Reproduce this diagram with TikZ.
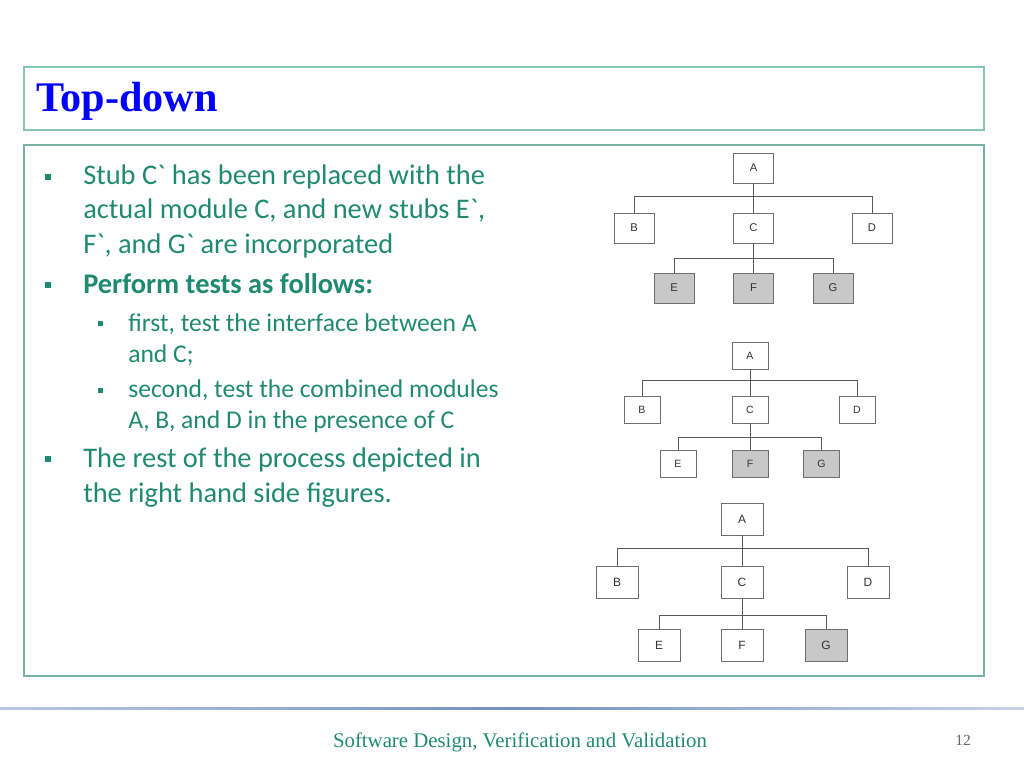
\documentclass[tikz,border=0pt]{standalone}
\usepackage{fontspec}
\setmainfont{Carlito}[Ligatures=TeXOff]
\newfontfamily\titlefont{Liberation Serif}
\newfontfamily\boxfont{Liberation Sans}
\usepackage{tikz}
\usetikzlibrary{positioning, arrows.meta}
\usepackage{xcolor}
\definecolor{bodytxt}{RGB}{31,138,112}
\definecolor{framecol}{RGB}{135,198,182}
\definecolor{footline}{RGB}{115,145,195}
\definecolor{boxline}{RGB}{110,110,110}
\definecolor{stubfill}{RGB}{200,200,200}

\begin{document}
\begin{tikzpicture}[x=0.025cm, y=-0.025cm]
  \tikzstyle{mod} = [rectangle, draw=boxline, fill=white, line width=0.5pt, inner sep=0pt, text=black!80]
  \tikzstyle{stub} = [mod, fill=stubfill]
  \tikzstyle{link} = [draw=black!65, line width=0.5pt]
  \tikzstyle{body} = [anchor=base west, inner sep=0pt, align=left, text=bodytxt, font=\fontsize{20.2}{24.2}\selectfont]
  \tikzstyle{subbody} = [body, font=\fontsize{18.2}{21.8}\selectfont]

  \useasboundingbox (0,0) rectangle (1024,768);

  % Titel
  \draw[framecol, line width=0.8pt] (24,67) rectangle (984,130);
  \node[anchor=base west, inner sep=0pt, text=blue, font=\titlefont\bfseries\fontsize{30}{34}\selectfont] (title) at (36,112) {Top-down};

  % Inhalt
  \draw[framecol!90!black, line width=0.8pt] (24,145) rectangle (984,676);

  \foreach \y in {177,285,459}
    \fill[bodytxt] (45,\y-3) rectangle (51,\y+3);
  \foreach \y in {323,390}
    \fill[bodytxt] (98,\y-2.5) rectangle (103,\y+2.5);

  % Ankerpunkt = Grundlinie der letzten Zeile
  \node[body] (p1) at (83,253)
    {Stub C` has been replaced with the\\ actual module C, and new stubs E`,\\ F`, and G` are incorporated};
  \node[body, font=\fontsize{20.2}{24.2}\selectfont\bfseries] (p2) at (83,293)
    {Perform tests as follows:};
  \node[subbody] (p3) at (128,362)
    {first, test the interface between A\\ and C;};
  \node[subbody] (p4) at (128,428)
    {second, test the combined modules\\ A, B, and D in the presence of C};
  \node[body] (p5) at (83,502)
    {The rest of the process depicted in\\ the right hand side figures.};

  % Baum 1
  \begin{scope}[every node/.append style={minimum width=1cm, minimum height=0.75cm, font=\boxfont\fontsize{8}{9}\selectfont}]
    \node[mod] (a1) at (753.5,168) {A};
    \node[mod] (b1) at (634,228) {B};
    \node[mod] (c1) at (753.5,228) {C};
    \node[mod] (d1) at (872,228) {D};
    \node[stub] (e1) at (674,288) {E};
    \node[stub] (f1) at (753.5,288) {F};
    \node[stub] (g1) at (833,288) {G};
  \end{scope}
  \foreach \k in {b1,c1,d1}
    \draw[link] (a1.south) -- ++(0,13) -| (\k.north);
  \foreach \k in {e1,f1,g1}
    \draw[link] (c1.south) -- ++(0,15) -| (\k.north);

  % Baum 2
  \begin{scope}[every node/.append style={minimum width=0.9cm, minimum height=0.675cm, font=\boxfont\fontsize{7.5}{9}\selectfont}]
    \node[mod] (a2) at (750,355.5) {A};
    \node[mod] (b2) at (642,409.5) {B};
    \node[mod] (c2) at (750,409.5) {C};
    \node[mod] (d2) at (857,409.5) {D};
    \node[mod] (e2) at (678,463.5) {E};
    \node[stub] (f2) at (750,463.5) {F};
    \node[stub] (g2) at (821.5,463.5) {G};
  \end{scope}
  \foreach \k in {b2,c2,d2}
    \draw[link] (a2.south) -- ++(0,11) -| (\k.north);
  \foreach \k in {e2,f2,g2}
    \draw[link] (c2.south) -- ++(0,14) -| (\k.north);

  % Baum 3
  \begin{scope}[every node/.append style={minimum width=1.05cm, minimum height=0.8cm, font=\boxfont\fontsize{8.5}{10}\selectfont}]
    \node[mod] (a3) at (742,519) {A};
    \node[mod] (b3) at (617,582.5) {B};
    \node[mod] (c3) at (742,582.5) {C};
    \node[mod] (d3) at (868,582.5) {D};
    \node[mod] (e3) at (659,645) {E};
    \node[mod] (f3) at (742,645) {F};
    \node[stub] (g3) at (826,645) {G};
  \end{scope}
  \foreach \k in {b3,c3,d3}
    \draw[link] (a3.south) -- ++(0,13) -| (\k.north);
  \foreach \k in {e3,f3,g3}
    \draw[link] (c3.south) -- ++(0,16) -| (\k.north);

  % Fusszeile
  \shade[left color=footline!50, right color=footline!40, middle color=footline] (0,707) rectangle (1024,709);
  \node[anchor=base, inner sep=0pt, text=bodytxt, font=\titlefont\fontsize{14.8}{16}\selectfont] (foot) at (520,747)
    {Software Design, Verification and Validation};
  \node[anchor=base, inner sep=0pt, text=black!60, font=\titlefont\fontsize{11}{12}\selectfont] (pg) at (963,745) {12};
\end{tikzpicture}
\end{document}
